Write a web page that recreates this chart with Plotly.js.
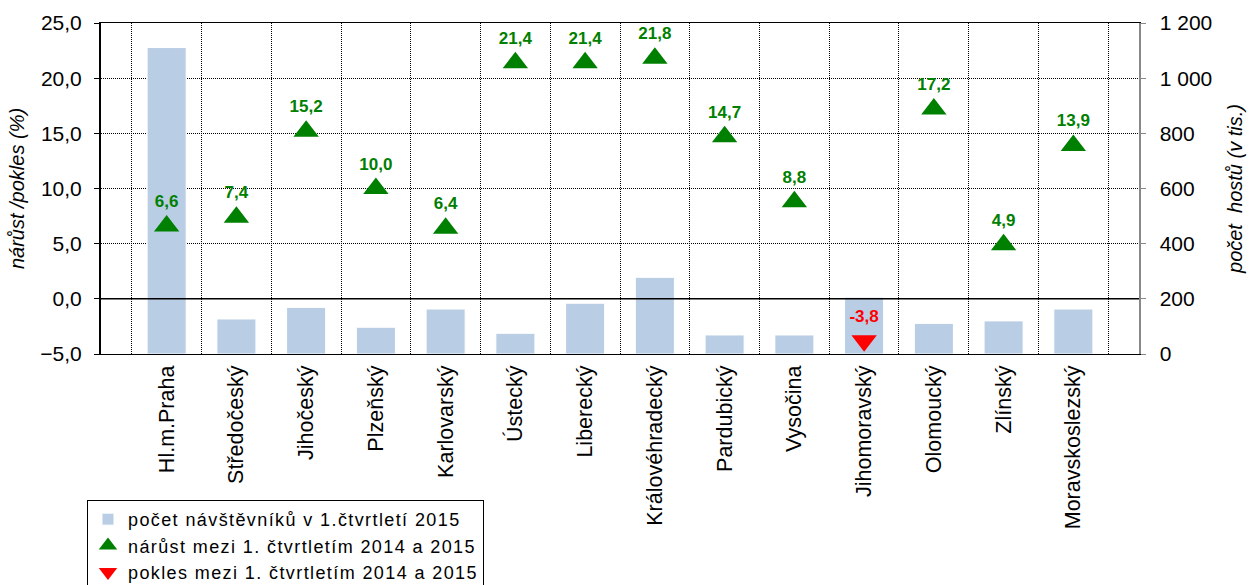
<!DOCTYPE html>
<html><head><meta charset="utf-8">
<script src="https://cdn.plot.ly/plotly-3.0.1.min.js"></script>
<style>html,body{margin:0;padding:0;background:#fff}#chart{width:1250px;height:585px}
.legendtext{letter-spacing:1.4px}</style>
</head><body><div id="chart"></div>
<script>
const regions = ["Hl.m.Praha","Středočeský","Jihočeský","Plzeňský","Karlovarský","Ústecký","Liberecký","Královéhradecký","Pardubický","Vysočina","Jihomoravský","Olomoucký","Zlínský","Moravskoslezský"];
const visitors = [1111,127,169,97,163,75,184,278,69,69,206,111,120,163];
const changePct = [6.6,7.4,15.2,10.0,6.4,21.4,21.4,21.8,14.7,8.8,-3.8,17.2,4.9,13.9];
const seriesNames = ["počet návštěvníků v 1.čtvrtletí 2015","nárůst mezi 1. čtvrtletím 2014 a 2015","pokles mezi 1. čtvrtletím 2014 a 2015"];
const leftTitle = "nárůst /pokles (%)";
const rightTitle = "počet  hostů (v tis.)";

const FONT = "Liberation Sans, Arial, sans-serif";
const fmt = v => v.toFixed(1).replace('.', ',');
const upX = [], upY = [], dnX = [], dnY = [];
regions.forEach((r, i) => {
  if (changePct[i] >= 0) { upX.push(r); upY.push(changePct[i]); }
  else { dnX.push(r); dnY.push(changePct[i]); }
});

const traces = [
  {type:'bar', x:regions, y:visitors, name:seriesNames[0], yaxis:'y',
   marker:{color:'#B9CDE5', line:{color:'#ffffff', width:1}}, hoverinfo:'skip'},
  {type:'scatter', mode:'markers+text', x:upX, y:upY, name:seriesNames[1], yaxis:'y2',
   marker:{symbol:'triangle-up', size:22, color:'#008000'},
   text:upY.map(fmt), textposition:'top center',
   textfont:{family:FONT, size:17, color:'#008000', weight:'bold'}, cliponaxis:false},
  {type:'scatter', mode:'markers+text', x:dnX, y:dnY, name:seriesNames[2], yaxis:'y2',
   marker:{symbol:'triangle-down', size:22, color:'#FF0000'},
   text:dnY.map(fmt), textposition:'top center',
   textfont:{family:FONT, size:17, color:'#FF0000', weight:'bold'}, cliponaxis:false}
];

const layout = {
  width:1250, height:585,
  margin:{l:101, r:111, t:23, b:231, autoexpand:false},
  paper_bgcolor:'#fff', plot_bgcolor:'#fff',
  separators:', ',
  font:{family:FONT, size:21, color:'#000'},
  bargap:0.44,
  showlegend:true,
  legend:{x:-0.0135, xanchor:'left', y:-0.441, yanchor:'top', bgcolor:'#fff',
    bordercolor:'#000', borderwidth:1, font:{family:FONT, size:18, color:'#000'},
    traceorder:'normal'},
  xaxis:{type:'category', tickangle:-90, showgrid:true, tickson:'boundaries',
    gridcolor:'#000', griddash:'1px,1px', gridwidth:1, ticks:'', showline:true, mirror:true,
    linecolor:'#000', linewidth:1, tickfont:{size:21.5}, ticklabelstandoff:2},
  yaxis:{side:'right', range:[0,1200], dtick:200, tickformat:',d', separatethousands:true,
    showgrid:true, gridcolor:'#000', griddash:'1px,1px', gridwidth:1, zeroline:false,
    showline:true, linecolor:'#888', linewidth:1.5, ticks:'outside', ticklen:5, tickcolor:'#888',
    tickfont:{size:21}, ticklabelstandoff:10,
    title:{text:rightTitle, font:{size:20, style:'italic'}, standoff:16}},
  yaxis2:{overlaying:'y', side:'left', range:[-5,25], dtick:5, tickformat:'.1f',
    showgrid:false, zeroline:false, showline:true, linecolor:'#000', linewidth:2,
    ticks:'outside', ticklen:5, tickcolor:'#000', tickfont:{size:21}, ticklabelstandoff:8,
    title:{text:leftTitle, font:{size:20, style:'italic'}, standoff:10}},
  shapes:[{type:'line', xref:'paper', x0:0, x1:1, yref:'y2', y0:0, y1:0, layer:'above',
    line:{color:'#000', width:1.5}}]
};

Plotly.newPlot('chart', traces, layout, {displayModeBar:false, staticPlot:true});
</script></body></html>
